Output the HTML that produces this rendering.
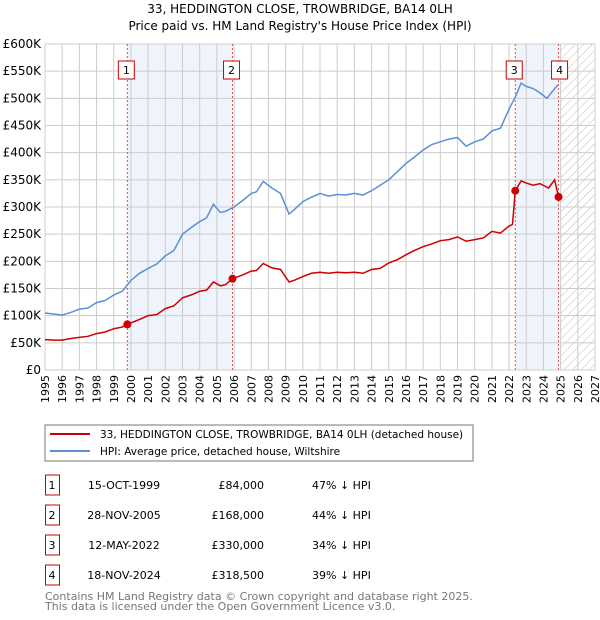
<!DOCTYPE html>
<html><head><meta charset="utf-8"><style>
body{margin:0;background:#fff;}
svg{display:block;font-family:"DejaVu Sans","Liberation Sans",sans-serif;}
</style></head><body>
<svg id="c" width="600" height="620" viewBox="0 0 600 620">
<defs><pattern id="hatch" width="6" height="6" patternUnits="userSpaceOnUse" patternTransform="rotate(45)"><line x1="0" y1="0" x2="0" y2="6" stroke="#bbb" stroke-width="1"/></pattern></defs>
<text x="300" y="13" text-anchor="middle" font-size="12">33, HEDDINGTON CLOSE, TROWBRIDGE, BA14 0LH</text>
<text x="300" y="30" text-anchor="middle" font-size="12">Price paid vs. HM Land Registry's House Price Index (HPI)</text>
<g id="plot"></g>
<rect x="45" y="425" width="428" height="36" fill="#fff" stroke="#777"/>
<line x1="50" y1="434" x2="90" y2="434" stroke="#cc0000" stroke-width="2"/>
<text x="100" y="438" font-size="10.5">33, HEDDINGTON CLOSE, TROWBRIDGE, BA14 0LH (detached house)</text>
<line x1="50" y1="451" x2="90" y2="451" stroke="#5b8fd6" stroke-width="2"/>
<text x="100" y="455" font-size="10.5">HPI: Average price, detached house, Wiltshire</text>
<g id="table" font-size="11"></g>
<text x="45" y="600" font-size="11" fill="#777">Contains HM Land Registry data © Crown copyright and database right 2025.</text>
<text x="45" y="610" font-size="11" fill="#777">This data is licensed under the Open Government Licence v3.0.</text>
</svg>
<script>
const hpiYears=[1995,1995.5,1996,1996.5,1997,1997.5,1998,1998.5,1999,1999.5,2000,2000.5,2001,2001.5,2002,2002.5,2003,2003.5,2004,2004.4,2004.8,2005.2,2005.5,2006,2006.5,2007,2007.3,2007.7,2008.2,2008.7,2009.2,2009.5,2010,2010.5,2011,2011.5,2012,2012.5,2013,2013.5,2014,2014.5,2015,2015.5,2016,2016.5,2017,2017.5,2018,2018.5,2019,2019.5,2020,2020.5,2021,2021.5,2022,2022.4,2022.7,2023,2023.4,2023.8,2024.2,2024.5,2024.85];
const hpiValues=[105000,103000,101000,106000,112000,114000,124000,128000,138000,145000,165000,178000,187000,195000,210000,220000,250000,262000,273000,280000,305000,290000,292000,300000,312000,325000,328000,347000,335000,325000,287000,295000,310000,318000,325000,320000,323000,322000,325000,322000,330000,340000,350000,365000,380000,392000,405000,415000,420000,425000,428000,412000,420000,425000,440000,445000,480000,505000,528000,522000,518000,510000,500000,512000,525000];
const ppYears=[1995,1995.5,1996,1996.5,1997,1997.5,1998,1998.5,1999,1999.5,1999.79,2000.5,2001,2001.5,2002,2002.5,2003,2003.5,2004,2004.4,2004.8,2005.2,2005.5,2005.91,2006.5,2007,2007.3,2007.7,2008.2,2008.7,2009.2,2009.5,2010,2010.5,2011,2011.5,2012,2012.5,2013,2013.5,2014,2014.5,2015,2015.5,2016,2016.5,2017,2017.5,2018,2018.5,2019,2019.5,2020,2020.5,2021,2021.5,2022,2022.2,2022.36,2022.7,2023,2023.4,2023.8,2024.3,2024.65,2024.88];
const ppValues=[56000,55000,55000,58000,60000,62000,67000,70000,76000,79000,84000,93000,100000,102000,113000,118000,133000,138000,145000,147000,162000,155000,157000,168000,175000,182000,183000,196000,188000,185000,162000,165000,172000,178000,180000,178000,180000,179000,180000,178000,185000,187000,197000,203000,212000,220000,227000,232000,238000,240000,245000,237000,240000,243000,255000,252000,265000,268000,330000,348000,344000,340000,343000,335000,350000,318500];
const saleYears=[1999.79,2005.91,2022.36,2024.88];
const salePrices=[84000,168000,330000,318500];
const saleLabels=["1","2","3","4"];
const saleDates=["15-OCT-1999","28-NOV-2005","12-MAY-2022","18-NOV-2024"];
const salePriceText=["£84,000","£168,000","£330,000","£318,500"];
const saleDiff=["47% ↓ HPI","44% ↓ HPI","34% ↓ HPI","39% ↓ HPI"];
const yTicks=[0,50000,100000,150000,200000,250000,300000,350000,400000,450000,500000,550000,600000];
const yTickLabels=["£0","£50K","£100K","£150K","£200K","£250K","£300K","£350K","£400K","£450K","£500K","£550K","£600K"];
const xYears=[1995,1996,1997,1998,1999,2000,2001,2002,2003,2004,2005,2006,2007,2008,2009,2010,2011,2012,2013,2014,2015,2016,2017,2018,2019,2020,2021,2022,2023,2024,2025,2026,2027];

const L=45,R=595,T=44,B=370;
const sx=y=>L+(y-1995)*(R-L)/32;
const sy=v=>B-v*(B-T)/600000;
const NS="http://www.w3.org/2000/svg";
const plot=document.getElementById('plot');
function mk(tag,attrs,parent){const e=document.createElementNS(NS,tag);for(const k in attrs)e.setAttribute(k,attrs[k]);(parent||plot).appendChild(e);return e;}
let b=mk('rect',{x:sx(saleYears[0]),y:T,width:sx(saleYears[1])-sx(saleYears[0]),height:B-T,fill:'#eef3fc'});


b=mk('rect',{x:sx(saleYears[2]),y:T,width:sx(saleYears[3])-sx(saleYears[2]),height:B-T,fill:'#eef3fc'});


b=mk('rect',{x:sx(2025),y:T,width:R-sx(2025),height:B-T,fill:'url(#hatch)'});


xYears.forEach((y,i)=>{
  const g=mk('line',{x1:sx(y),x2:sx(y),y1:T,y2:B,stroke:'#ccc','stroke-width':1});
  
  
  const t=mk('text',{x:0,y:0,'font-size':11,'text-anchor':'end',transform:`translate(${sx(y)+4},${B+5}) rotate(-90)`});
  t.textContent=y;
  
  
});
yTicks.forEach((v,i)=>{
  const g=mk('line',{x1:L,x2:R,y1:sy(v),y2:sy(v),stroke:'#ccc','stroke-width':1});
  
  
  const t=mk('text',{x:L-4,y:sy(v)+4,'font-size':12,'text-anchor':'end'});
  t.textContent=yTickLabels[i];
  
  
});
b=mk('rect',{x:L,y:T,width:R-L,height:B-T,fill:'none',stroke:'#ccc'});


saleYears.forEach((y,i)=>{
  const l=mk('line',{x1:sx(y),x2:sx(y),y1:T,y2:B,stroke:'#e05050','stroke-width':1,'stroke-dasharray':'2,2'});
  
  
});
let p=mk('polyline',{points:hpiYears.map((y,i)=>sx(y)+','+sy(hpiValues[i])).join(' '),fill:'none',stroke:'#5b8fd6','stroke-width':1.5});


p=mk('polyline',{points:ppYears.map((y,i)=>sx(y)+','+sy(ppValues[i])).join(' '),fill:'none',stroke:'#cc0000','stroke-width':1.5});


saleYears.forEach((y,i)=>{
  const c=mk('circle',{cx:sx(y),cy:sy(salePrices[i]),r:4,fill:'#cc0000'});
  
  
  const bx=sx(y)-(i==3?-2:0)-8;
  const r=mk('rect',{x:bx-1,y:61,width:16,height:18,fill:'#fff',stroke:'#cc0000'});
  
  
  const t=mk('text',{x:bx+7,y:74,'font-size':11,'text-anchor':'middle'});
  t.textContent=saleLabels[i];
  
  
});
const tbl=document.getElementById('table');
saleLabels.forEach((s,i)=>{
  const cy=483+i*30;
  const r=mk('rect',{x:45.5,y:cy-8,width:14,height:20,fill:'#fff',stroke:'#cc0000'},tbl);
  
  
  const cells=[[52,s,'middle'],[124,saleDates[i],'middle'],[264,salePriceText[i],'end'],[312,saleDiff[i],'start']];
  cells.forEach(([x,txt,a],j)=>{
    const t=mk('text',{x:x,y:cy+6,'text-anchor':a},tbl);
    t.textContent=txt;
    
    
  });
});
</script>
</body></html>
